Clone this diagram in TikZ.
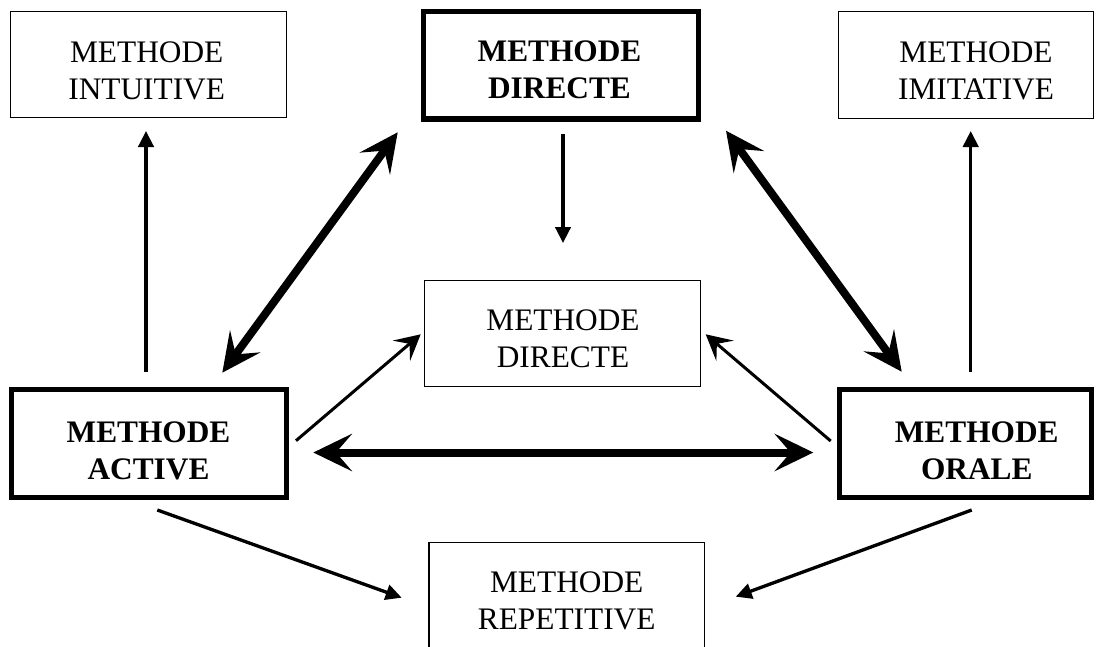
\documentclass[tikz,border=0pt]{standalone}
\usepackage{fontspec}
\setmainfont{Liberation Serif}
\usetikzlibrary{arrows.meta}

\begin{document}
\begin{tikzpicture}[
  x=0.75pt, y=-0.75pt,
  thinbox/.style={draw, line width=1pt, inner sep=0pt, rectangle},
  thickbox/.style={draw, line width=4pt, inner sep=0pt, rectangle},
  label/.style={inner sep=0pt, align=center, font=\fontsize{23.5}{27.5}\selectfont},
  boldlabel/.style={label, font=\fontsize{23.5}{27.5}\selectfont\bfseries},
  plainarr/.style={line width=2.5pt, -{Triangle[length=12pt,width=11.5pt]}},
  slimarr/.style={line width=2.25pt, -{Stealth[length=19pt,width=20pt,inset=8pt]}},
  boldarr/.style={line width=6pt, {Stealth[length=29pt,width=28pt,inset=12pt]}-{Stealth[length=29pt,width=28pt,inset=12pt]}}
]
\useasboundingbox (0,0) rectangle (1105,646);
\clip (0,0) rectangle (1105,646);

% boxes
\node[thinbox, minimum width=206.8pt, minimum height=79.3pt] (intuitive) at (148.5,64.5) {};
\node[thickbox, minimum width=206.3pt, minimum height=80.5pt] (directe) at (560.85,65.35) {};
\node[thinbox, minimum width=191pt, minimum height=80pt] (imitative) at (966,65) {};
\node[thinbox, minimum width=206.8pt, minimum height=79.3pt] (centre) at (562.5,333.5) {};
\node[thickbox, minimum width=206pt, minimum height=80.8pt] (active) at (149,443.5) {};
\node[thickbox, minimum width=189pt, minimum height=80.8pt] (orale) at (965.35,443.5) {};
\node[thinbox, minimum width=206.5pt, minimum height=81.5pt] (repetitive) at (566.65,597) {};

% labels
\node[label] (tintuitive) at (146.7,70.8) {METHODE\\INTUITIVE};
\node[boldlabel] (tdirecte) at (559.5,70) {METHODE\\DIRECTE};
\node[label] (timitative) at (976,70.7) {METHODE\\IMITATIVE};
\node[label] (tcentre) at (563,339) {METHODE\\DIRECTE};
\node[boldlabel] (tactive) at (148.5,451) {METHODE\\ACTIVE};
\node[boldlabel] (torale) at (976.7,451) {METHODE\\ORALE};
\node[label] (trepetitive) at (566.7,601) {METHODE\\REPETITIVE};

% connector end points
\coordinate (a1) at (146,372);   \coordinate (a2) at (146,131);
\coordinate (o1) at (970.7,372); \coordinate (o2) at (970.7,131);
\coordinate (d1) at (563,134);   \coordinate (d2) at (563,243);
\coordinate (l1) at (222.3,372.7); \coordinate (l2) at (397.7,132.3);
\coordinate (r1) at (726,130.7);   \coordinate (r2) at (901.7,371.7);
\coordinate (h1) at (313.3,452.5); \coordinate (h2) at (813.3,452.5);
\coordinate (m1) at (296,440.7);   \coordinate (m2) at (420.7,334.3);
\coordinate (n1) at (830.7,441);   \coordinate (n2) at (705.7,334.3);
\coordinate (b1) at (157.3,510);   \coordinate (b2) at (401.7,597.7);
\coordinate (c1) at (971.7,510);   \coordinate (c2) at (735.7,596.7);

% connectors
\draw[plainarr] (a1) -- (a2);
\draw[plainarr] (o1) -- (o2);
\draw[plainarr] (d1) -- (d2);
\draw[boldarr] (l1) -- (l2);
\draw[boldarr] (r1) -- (r2);
\draw[boldarr] (h1) -- (h2);
\draw[slimarr] (m1) -- (m2);
\draw[slimarr] (n1) -- (n2);
\draw[plainarr] (b1) -- (b2);
\draw[plainarr] (c1) -- (c2);
\end{tikzpicture}
\end{document}
